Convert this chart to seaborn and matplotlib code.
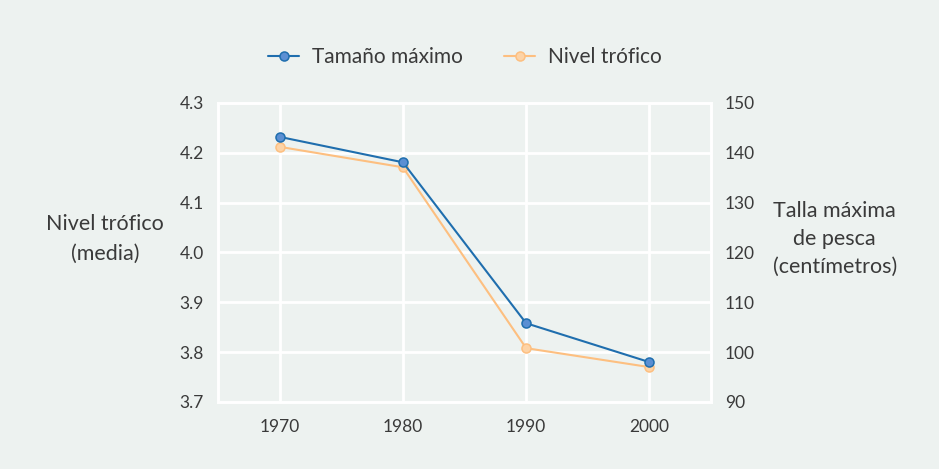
import pandas as pd
import matplotlib.pyplot as plt
import seaborn as sns

# Data
years = [1970, 1980, 1990, 2000]
nivel_trofico = [4.212, 4.171, 3.808, 3.770]      # left axis (media)
talla_maxima = [143.2, 138.1, 105.8, 98.0]          # right axis (cm)

bg = '#edf2f0'
blue_line = '#1f6eae'
blue_fill = '#5b8fd3'
orange_line = '#fdbf80'
orange_fill = '#fdd3a6'
text_color = '#3a3a3a'

sns.set_theme(style="white")
plt.rcParams['font.family'] = ['Lato', 'DejaVu Sans']

df = pd.DataFrame({'year': years, 'nivel': nivel_trofico, 'talla': talla_maxima})

fig = plt.figure(figsize=(9.39, 4.69), dpi=100, facecolor=bg)
ax = fig.add_axes([0.2322, 0.1429, 0.525, 0.6375])
ax.set_facecolor(bg)
ax2 = ax.twinx()

sns.lineplot(data=df, x='year', y='nivel', ax=ax, color=orange_line, linewidth=1.5,
             marker='o', markersize=6.5, markerfacecolor=orange_fill,
             markeredgecolor=orange_line, markeredgewidth=1.1, zorder=3,
             label='Nivel trófico', legend=False)
sns.lineplot(data=df, x='year', y='talla', ax=ax2, color=blue_line, linewidth=1.5,
             marker='o', markersize=6.5, markerfacecolor=blue_fill,
             markeredgecolor=blue_line, markeredgewidth=1.1, zorder=3,
             label='Tamaño máximo', legend=False)

ax.set_xlim(1965, 2005)
ax.set_ylim(3.7, 4.3)
ax2.set_ylim(90, 150)
ax.set_xticks(years)
ax.set_yticks([3.7, 3.8, 3.9, 4.0, 4.1, 4.2, 4.3])
ax.set_yticklabels(['3.7', '3.8', '3.9', '4.0', '4.1', '4.2', '4.3'])
ax2.set_yticks(range(90, 151, 10))

# white grid on both directions
ax.grid(True, color='white', linewidth=2)
ax.set_axisbelow(True)
ax2.grid(False)

for a in (ax, ax2):
    for s in a.spines.values():
        s.set_color('white')
        s.set_linewidth(2)
    a.tick_params(length=0, labelsize=12.5, colors=text_color, pad=10)
    a.set_xlabel('')
    a.set_ylabel('')

ax.tick_params(axis='x', pad=12)

fig.text(0.112, 0.49, 'Nivel trófico\n(media)', ha='center', va='center',
         fontsize=15.5, color=text_color, linespacing=1.6)
fig.text(0.889, 0.49, 'Talla máxima\nde pesca\n(centímetros)', ha='center', va='center',
         fontsize=15.5, color=text_color, linespacing=1.5)

h1 = ax2.get_lines()[0]
h2 = ax.get_lines()[0]
fig.legend([h1, h2], ['Tamaño máximo', 'Nivel trófico'], loc='center',
           bbox_to_anchor=(0.495, 0.878), ncol=2, frameon=False,
           labelcolor=text_color, handlelength=1.5,
           columnspacing=2.0, handletextpad=0.6, prop={'size': 15})

fig.savefig('out.png', dpi=100, facecolor=bg)
